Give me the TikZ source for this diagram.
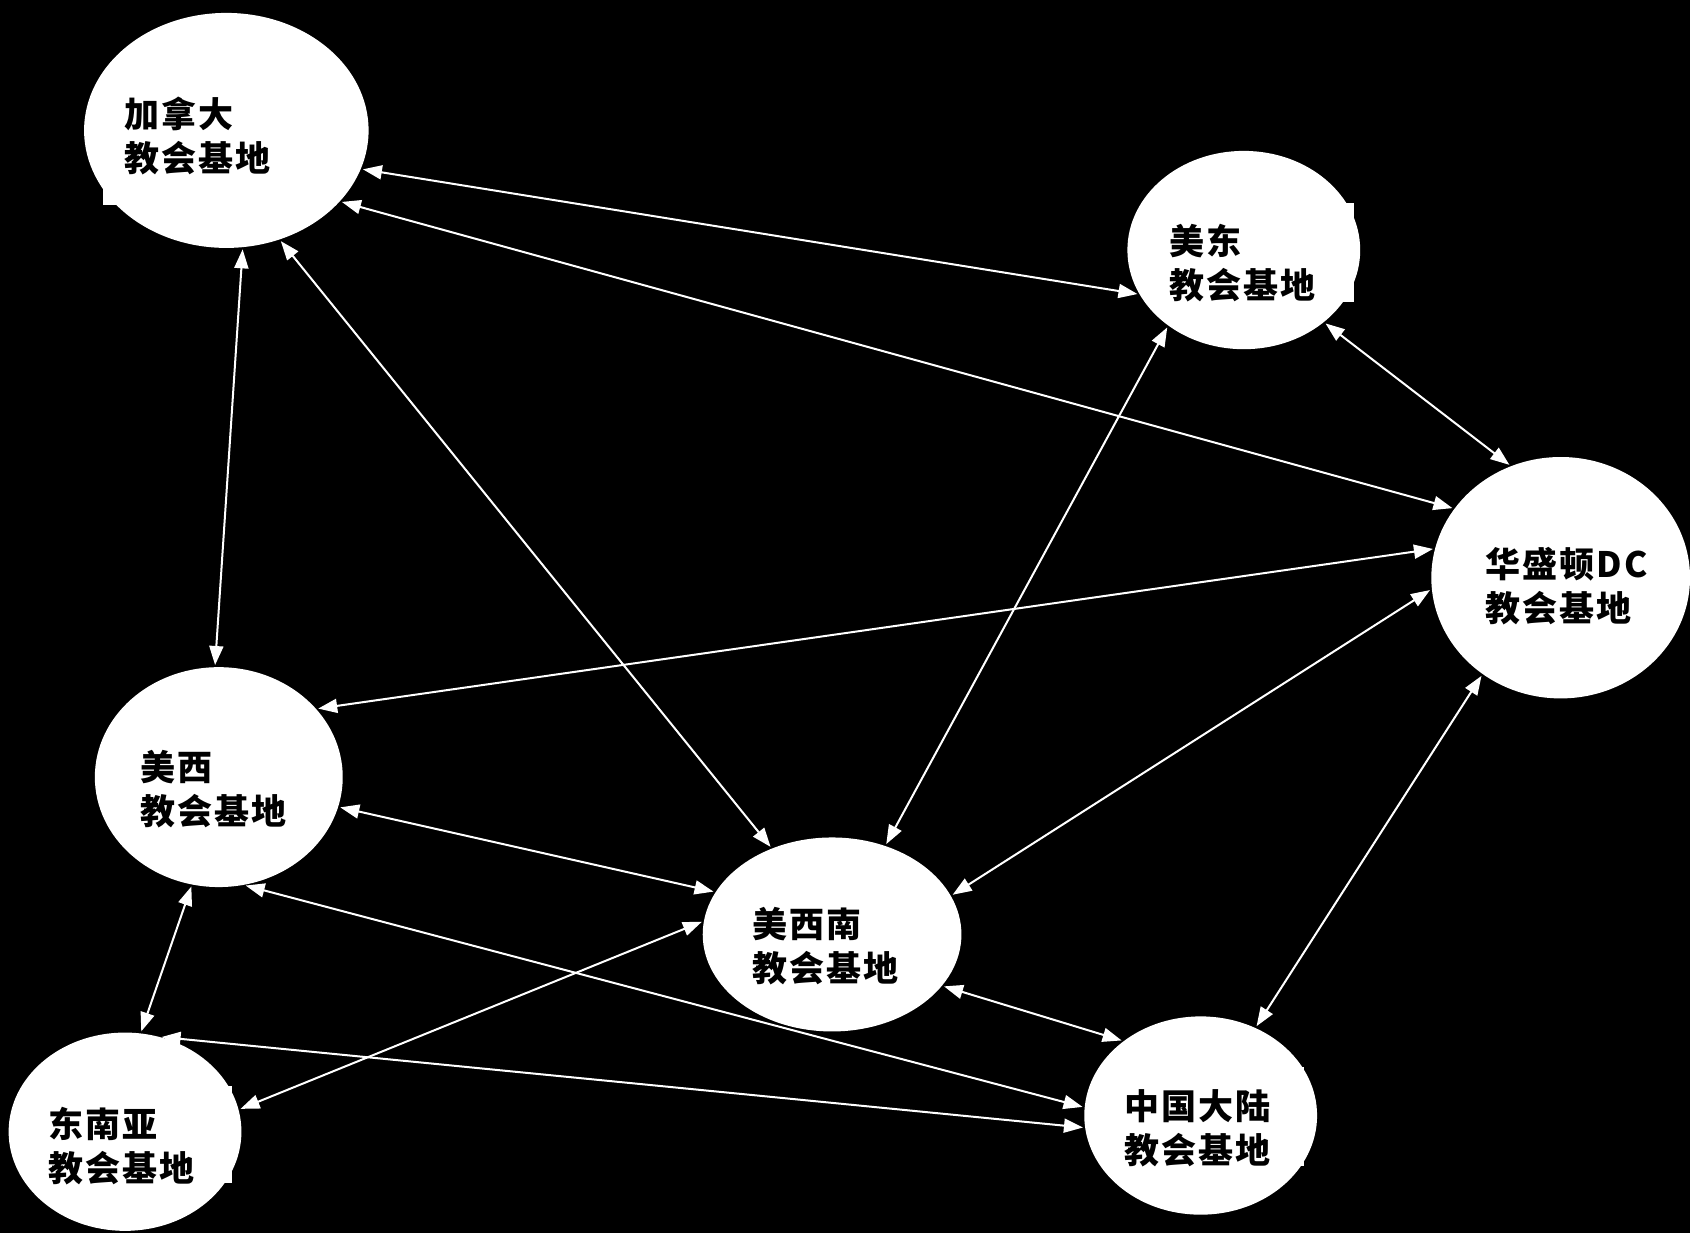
\documentclass[tikz,border=0pt]{standalone}
\usepackage{fontspec}
\newfontfamily\cjk{Noto Sans CJK SC}[LetterSpace=6]
\usetikzlibrary{shapes.geometric,arrows.meta}
\tikzset{
  base/.style={shape=ellipse, fill=white, draw=none, inner sep=0pt},
  lbl/.style={anchor=west, align=left, inner sep=0pt, font=\cjk\bfseries\fontsize{35pt}{44pt}\selectfont, text=black},
  conn/.style={draw=white, line width=2pt, {Triangle[length=19pt,width=14pt]}-{Triangle[length=19pt,width=14pt]}, shorten >=2pt, shorten <=2pt},
  patch/.style={fill=white, draw=none}
}
\begin{document}
\begin{tikzpicture}[x=1.0778pt,y=-1.0778pt]
\fill[black] (0,0) rectangle (1568,1144);
\useasboundingbox (0,0) rectangle (1568,1144);
% small text-box corners
\fill[patch] (96,80) rectangle (110,190);
\fill[patch] (1200,188) rectangle (1256,280);
\fill[patch] (150,1008) rectangle (215,1098);
\fill[patch] (1150,990) rectangle (1210,1082);
% nodes
\node[base, minimum width=284.5pt, minimum height=235pt] (n1) at (210,121) {};
\node[base, minimum width=232.8pt, minimum height=198.3pt] (n2) at (1154,232) {};
\node[base, minimum width=258.7pt, minimum height=241.4pt] (n3) at (1448,536) {};
\node[base, minimum width=247.9pt, minimum height=219.9pt] (n4) at (203,721) {};
\node[base, minimum width=258.7pt, minimum height=194pt] (n5) at (772,867) {};
\node[base, minimum width=232.8pt, minimum height=198.3pt] (n6) at (116,1050) {};
\node[base, minimum width=232.8pt, minimum height=198.3pt] (n7) at (1114,1035) {};
% labels
\node[lbl] (t1) at (115,126) {加拿大\\教会基地};
\node[lbl] (t2) at (1085,244) {美东\\教会基地};
\node[lbl] (t3) at (1378,544) {华盛顿DC\\教会基地};
\node[lbl] (t4) at (130,732) {美西\\教会基地};
\node[lbl] (t5) at (698,878) {美西南\\教会基地};
\node[lbl] (t6) at (45,1063) {东南亚\\教会基地};
\node[lbl] (t7) at (1043,1047) {中国大陆\\教会基地};
% connectors
\draw[conn] (n1.-16.9) -- (n2.203.8);
\draw[conn] (n1.-32.8) -- (n3.147.8);
\draw[conn] (n1.-82.3) -- (n4.92.8);
\draw[conn] (n1.-64.1) -- (n5.125.1);
\draw[conn] (n2.225) -- (n5.59.3);
\draw[conn] (n2.-42.9) -- (n3.114);
\draw[conn] (n3.167.8) -- (n4.35);
\draw[conn] (n3.185.7) -- (n5.18.9);
\draw[conn] (n3.231.7) -- (n7.58.5);
\draw[conn] (n4.-14.5) -- (n5.160.7);
\draw[conn] (n4.-77.4) -- (n7.176.4);
\draw[conn] (n4.256.6) -- (n6.81.3);
\draw[conn] (n5.174.3) -- (n6.11.8);
\draw[conn] (n5.-25.6) -- (n7.136.7);
\draw[conn] (n6.70.8) -- (n7.186.3);
\end{tikzpicture}
\end{document}
